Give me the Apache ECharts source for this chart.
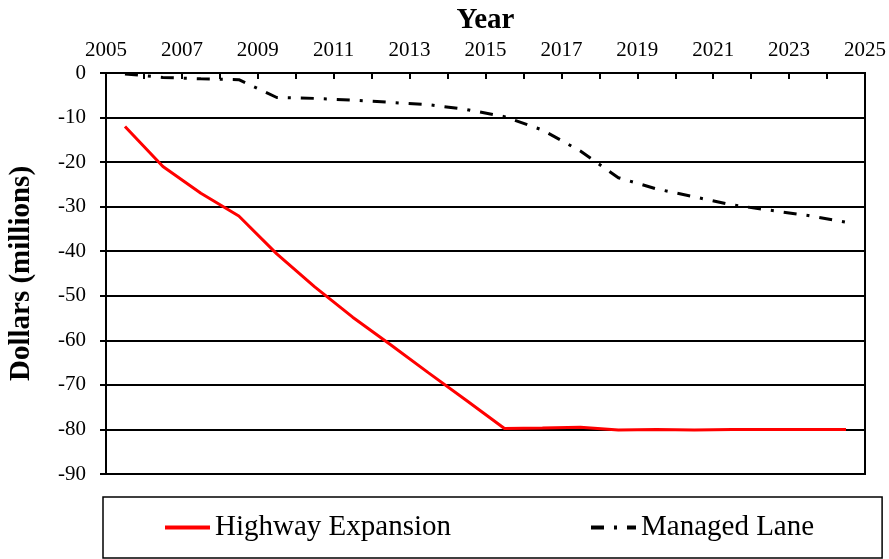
<!DOCTYPE html>
<html>
<head>
<meta charset="utf-8">
<script src="https://cdn.jsdelivr.net/npm/echarts@6/dist/echarts.min.js"></script>
<style>
  html, body { margin: 0; padding: 0; background: #fff; }
  #chart { width: 889px; height: 559px; }
</style>
</head>
<body>
<div id="chart"></div>
<script>
// points sit in the middle of each year
const years = [2005.5, 2006.5, 2007.5, 2008.5, 2009.5, 2010.5, 2011.5, 2012.5, 2013.5, 2014.5,
  2015.5, 2016.5, 2017.5, 2018.5, 2019.5, 2020.5, 2021.5, 2022.5, 2023.5, 2024.5]
const highwayExpansion = [-12, -21, -27, -32.1, -40.6, -48, -54.8, -61, -67.3, -73.5,
  -79.8, -79.7, -79.5, -80.1, -80, -80.1, -80, -80, -80, -80]
const managedLane = [-0.2, -1, -1.3, -1.5, -5.5, -5.7, -6.1, -6.6, -7.1, -8.2,
  -9.8, -12.8, -17.5, -23.5, -26, -27.8, -29.6, -30.8, -32, -33.5]
const yTicks = { min: -90, max: 0, step: 10 }
const xTicks = { min: 2005, max: 2025, step: 1, labelEvery: 2 }

const serif = '"Liberation Serif", "DejaVu Serif", serif'

let myChart = echarts.init(document.getElementById('chart'))
let option = {
  animation: false,
  grid: {
    left: 106,
    right: 24,
    top: 73,
    bottom: 85,
    outerBoundsMode: 'none',
    containLabel: false,
    show: true,
    borderColor: '#000',
    borderWidth: 2
  },
  legend: {
    left: 103,
    top: 497,
    data: ['Highway Expansion', 'Managed Lane'],
    borderColor: '#000',
    borderWidth: 1.5,
    padding: [16, 68, 16, 60],
    itemWidth: 45,
    itemHeight: 26,
    itemGap: 138,
    itemStyle: { color: 'rgba(0,0,0,0)', borderWidth: 0 },
    lineStyle: { width: 4 },
    textStyle: {
      fontFamily: serif,
      fontSize: 29,
      color: '#000'
    }
  },
  xAxis: {
    type: 'value',
    position: 'top',
    min: xTicks.min,
    max: xTicks.max,
    interval: xTicks.step,
    name: 'Year',
    nameLocation: 'middle',
    nameGap: 38,
    nameMoveOverlap: false,
    nameTextStyle: {
      fontFamily: serif,
      fontSize: 29,
      fontWeight: 'bold',
      color: '#000'
    },
    axisLine: { lineStyle: { color: '#000', width: 2 } },
    axisTick: { inside: true, length: 6, lineStyle: { color: '#000', width: 2 } },
    splitLine: { show: false },
    axisLabel: {
      margin: 12,
      fontFamily: serif,
      fontSize: 21,
      color: '#000',
      formatter: v => ((v - xTicks.min) % xTicks.labelEvery === 0 ? String(v) : '')
    }
  },
  yAxis: {
    type: 'value',
    min: yTicks.min,
    max: yTicks.max,
    interval: yTicks.step,
    name: 'Dollars (millions)',
    nameLocation: 'middle',
    nameRotate: 90,
    nameGap: 70,
    nameMoveOverlap: false,
    nameTextStyle: {
      fontFamily: serif,
      fontSize: 29,
      fontWeight: 'bold',
      color: '#000'
    },
    axisLine: { show: true, lineStyle: { color: '#000', width: 2 } },
    axisTick: { show: true, length: 6, lineStyle: { color: '#000', width: 2 } },
    splitLine: { show: true, lineStyle: { color: '#000', width: 2 } },
    axisLabel: {
      margin: 20,
      fontFamily: serif,
      fontSize: 21,
      color: '#000'
    }
  },
  series: [
    {
      name: 'Highway Expansion',
      type: 'line',
      data: years.map((x, i) => [x, highwayExpansion[i]]),
      symbol: 'none',
      lineStyle: { color: '#ff0000', width: 3 },
      itemStyle: { color: '#ff0000' }
    },
    {
      name: 'Managed Lane',
      type: 'line',
      data: years.map((x, i) => [x, managedLane[i]]),
      symbol: 'none',
      lineStyle: { color: '#000', width: 3, type: [13, 10, 3, 10] },
      itemStyle: { color: '#000' }
    }
  ]
}
myChart.setOption(option)
</script>
</body>
</html>
